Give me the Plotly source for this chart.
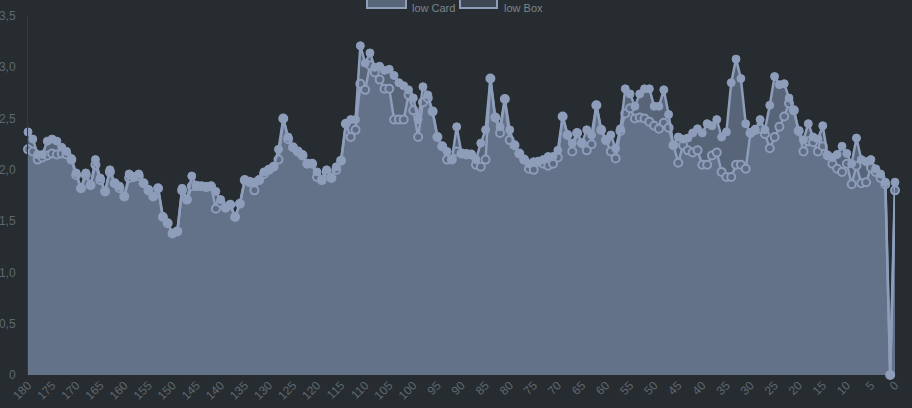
import plotly.graph_objects as go

series_names = ["low Card", "low Box"]

x_labels = [str(v) for v in range(180, -1, -1)]

low_card = [
    2.37, 2.30, 2.15, 2.15, 2.28, 2.30, 2.28, 2.22, 2.18, 2.11,
    1.97, 1.82, 1.97, 1.85, 2.10, 1.92, 1.79, 2.00, 1.87, 1.84,
    1.74, 1.96, 1.93, 1.96, 1.87, 1.81, 1.74, 1.82, 1.54, 1.48,
    1.38, 1.40, 1.82, 1.71, 1.94, 1.85, 1.84, 1.84, 1.84, 1.79,
    1.71, 1.63, 1.66, 1.54, 1.67, 1.90, 1.89, 1.88, 1.90, 1.98,
    2.00, 2.03, 2.20, 2.50, 2.32, 2.22, 2.18, 2.15, 2.06, 2.06,
    1.98, 1.90, 2.00, 1.92, 2.03, 2.09, 2.45, 2.49, 2.49, 3.21,
    3.04, 3.14, 3.00, 3.01, 2.97, 2.98, 2.92, 2.85, 2.82, 2.78,
    2.70, 2.49, 2.81, 2.73, 2.57, 2.32, 2.23, 2.18, 2.10, 2.42,
    2.16, 2.16, 2.15, 2.10, 2.26, 2.39, 2.89, 2.51, 2.42, 2.69,
    2.39, 2.24, 2.16, 2.10, 2.06, 2.08, 2.08, 2.10, 2.13, 2.13,
    2.19, 2.52, 2.34, 2.26, 2.36, 2.26, 2.39, 2.34, 2.63, 2.39,
    2.29, 2.34, 2.21, 2.40, 2.79, 2.74, 2.62, 2.74, 2.79, 2.79,
    2.62, 2.62, 2.78, 2.54, 2.24, 2.32, 2.30, 2.31, 2.36, 2.40,
    2.36, 2.45, 2.43, 2.49, 2.32, 2.37, 2.85, 3.08, 2.89, 2.45,
    2.36, 2.39, 2.49, 2.39, 2.63, 2.91, 2.83, 2.84, 2.70, 2.58,
    2.38, 2.29, 2.45, 2.32, 2.30, 2.43, 2.14, 2.12, 2.15, 2.23,
    2.16, 2.06, 2.31, 2.10, 2.08, 2.10, 2.01, 1.96, 1.88, 0.00,
    1.88,
]

low_box = [
    2.20, 2.18, 2.10, 2.12, 2.14, 2.16, 2.15, 2.16, 2.15, 2.10,
    1.95, 1.82, 1.95, 1.85, 2.05, 1.90, 1.79, 1.98, 1.87, 1.82,
    1.74, 1.92, 1.93, 1.94, 1.87, 1.80, 1.74, 1.82, 1.54, 1.48,
    1.38, 1.40, 1.80, 1.71, 1.84, 1.84, 1.84, 1.83, 1.84, 1.62,
    1.68, 1.63, 1.66, 1.54, 1.67, 1.90, 1.88, 1.80, 1.90, 1.96,
    2.00, 2.03, 2.10, 2.50, 2.30, 2.22, 2.18, 2.14, 2.06, 2.06,
    1.93, 1.90, 1.98, 1.92, 2.00, 2.09, 2.45, 2.32, 2.39, 2.84,
    2.78, 3.02, 2.95, 2.88, 2.79, 2.79, 2.49, 2.49, 2.49, 2.73,
    2.58, 2.32, 2.66, 2.70, 2.57, 2.32, 2.23, 2.10, 2.10, 2.18,
    2.16, 2.15, 2.15, 2.05, 2.03, 2.10, 2.89, 2.51, 2.36, 2.69,
    2.29, 2.24, 2.16, 2.10, 2.01, 2.00, 2.08, 2.06, 2.04, 2.06,
    2.12, 2.52, 2.34, 2.18, 2.36, 2.26, 2.19, 2.25, 2.63, 2.39,
    2.29, 2.18, 2.11, 2.38, 2.55, 2.60, 2.50, 2.51, 2.50, 2.47,
    2.43, 2.40, 2.46, 2.41, 2.24, 2.07, 2.24, 2.19, 2.17, 2.19,
    2.05, 2.05, 2.14, 2.17, 1.98, 1.93, 1.93, 2.05, 2.05, 2.01,
    2.36, 2.39, 2.40, 2.35, 2.21, 2.32, 2.42, 2.52, 2.65, 2.58,
    2.38, 2.18, 2.28, 2.27, 2.18, 2.23, 2.14, 2.06, 2.01, 1.98,
    2.06, 1.86, 2.04, 1.87, 1.88, 2.02, 1.98, 1.92, 1.86, 0.00,
    1.80,
]

x_tick_labels = x_labels[::5]
y_tick_vals = [0, 0.5, 1.0, 1.5, 2.0, 2.5, 3.0, 3.5]
y_tick_labels = ["0", "0,5", "1,0", "1,5", "2,0", "2,5", "3,0", "3,5"]

BG = "#262c30"
LINE = "#8d9dba"
CARD_FILL = "rgba(130,148,180,0.55)"
BOX_FILL = "rgba(120,138,170,0.30)"
TICK = "#5f686f"

fig = go.Figure()

# fills first (so they never cover lines)
fig.add_trace(go.Scatter(x=x_labels, y=low_box, mode="none", fill="tozeroy",
                         fillcolor=BOX_FILL, showlegend=False, hoverinfo="skip"))
fig.add_trace(go.Scatter(x=x_labels, y=low_card, mode="none", fill="tozeroy",
                         fillcolor=CARD_FILL, showlegend=False, hoverinfo="skip"))

fig.add_trace(go.Scatter(x=x_labels, y=low_box, mode="lines+markers", name=series_names[1],
                         line=dict(color=LINE, width=2.5),
                         marker=dict(size=8, color="rgba(95,108,132,1)", line=dict(color=LINE, width=2)),
                         cliponaxis=False, showlegend=False))
fig.add_trace(go.Scatter(x=x_labels, y=low_card, mode="lines+markers", name=series_names[0],
                         line=dict(color=LINE, width=2.5),
                         marker=dict(size=8, color=LINE, line=dict(color=LINE, width=1)),
                         cliponaxis=False, showlegend=False))

L, R, T, B = 28, 17, 16, 33
W, H = 912, 408
pw, ph = W - L - R, H - T - B


def px_x(p):
    return (p - L) / pw


def px_y(p):
    return (H - B - p) / ph


# manual legend (Chart.js style boxes), partially cut at the top like the reference
legend_items = [
    (series_names[0], CARD_FILL, 367, 406, 410),
    (series_names[1], BOX_FILL, 460, 497, 502),
]
for name, fc, x0, x1, tx in legend_items:
    fig.add_shape(type="rect", xref="paper", yref="paper",
                  x0=px_x(x0), x1=px_x(x1), y0=px_y(8), y1=px_y(-8),
                  fillcolor=BG, line=dict(width=0), layer="above")
    fig.add_shape(type="rect", xref="paper", yref="paper",
                  x0=px_x(x0), x1=px_x(x1), y0=px_y(8), y1=px_y(-8),
                  fillcolor=fc, line=dict(color=LINE, width=2), layer="above")
    fig.add_annotation(xref="paper", yref="paper", x=px_x(tx), y=px_y(0),
                       text=name, showarrow=False, xanchor="left", yanchor="top",
                       font=dict(size=11, color="#7d858c"))

fig.update_layout(
    width=W, height=H,
    margin=dict(l=L, r=R, t=T, b=B, pad=0, autoexpand=False),
    paper_bgcolor=BG, plot_bgcolor=BG,
    font=dict(family="Arial, Liberation Sans, sans-serif", size=12, color=TICK),
    separators=",.",
    showlegend=False,
)
fig.update_xaxes(
    type="category", range=[0, len(x_labels) - 1], automargin=False,
    tickmode="array", tickvals=x_tick_labels, ticktext=x_tick_labels,
    tickangle=-45, tickfont=dict(size=12, color=TICK),
    showgrid=False, zeroline=False, showline=False, ticks="",
)
fig.update_yaxes(
    range=[0, 3.5], tickmode="array", tickvals=y_tick_vals, ticktext=y_tick_labels,
    tickfont=dict(size=12, color=TICK), ticklabelstandoff=9, automargin=False,
    showgrid=False, zeroline=False, showline=True, linecolor="#323a40", linewidth=1, ticks="",
)

fig.write_html(
    "out.html",
    config={"displayModeBar": False},
    post_script="document.body.style.margin='0';document.body.style.background='#262c30';",
)
